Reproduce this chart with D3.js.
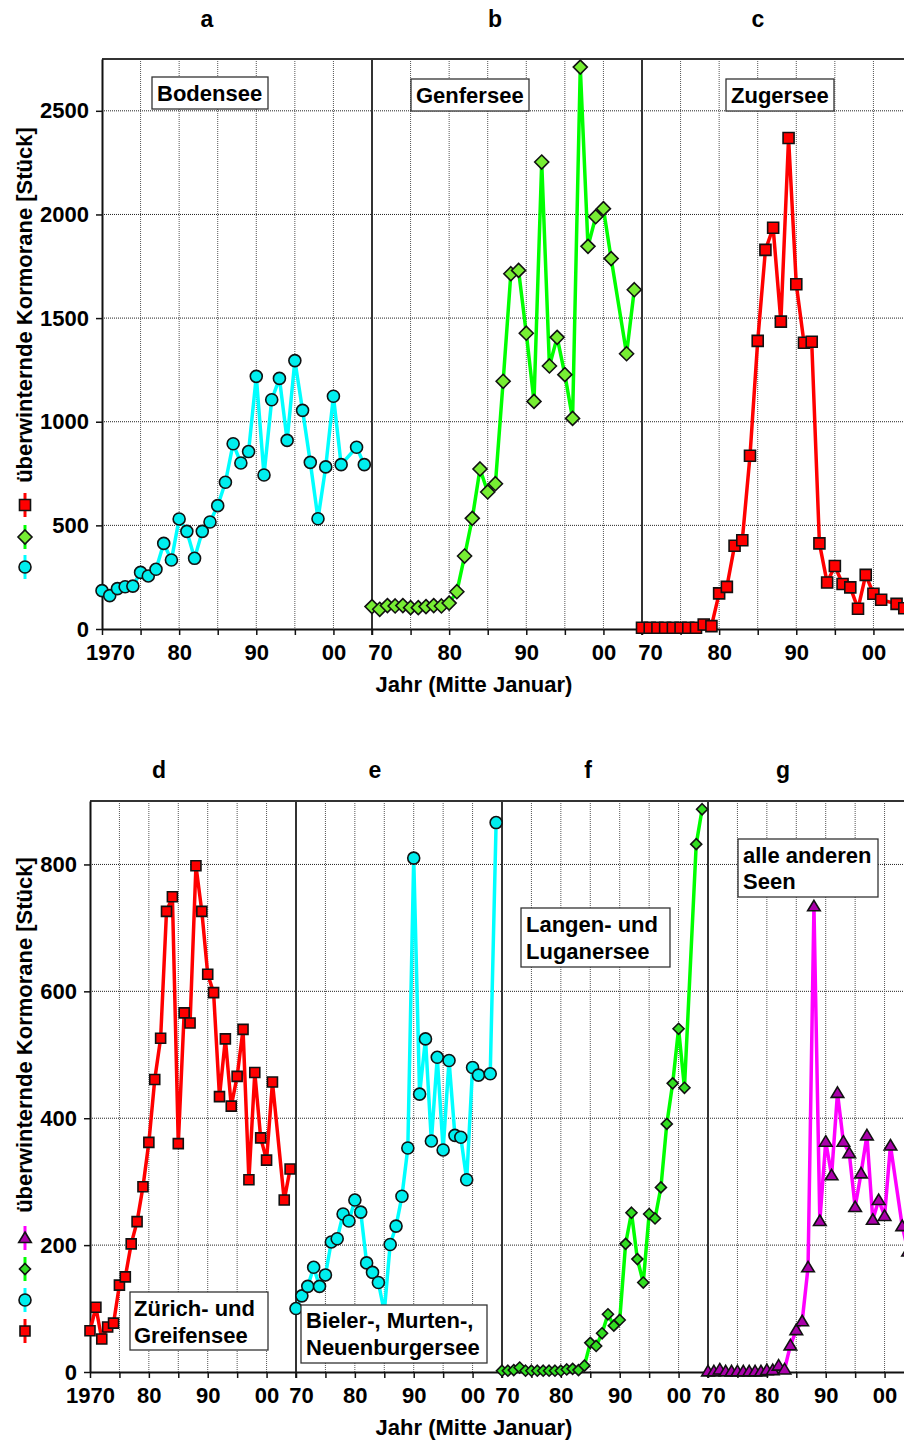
<!DOCTYPE html>
<html>
<head>
<meta charset="utf-8">
<script src="https://cdn.jsdelivr.net/npm/d3@7"></script>
<style>
  body { margin: 0; background: #fff; }
  svg text { font-family: "Liberation Sans", Arial, sans-serif; font-weight: bold; fill: #000; }
</style>
</head>
<body>
<svg id="chart" width="904" height="1441"></svg>
<script>
// Winter counts (mid-January) of cormorants on Swiss lakes, 1970–2004 (no count in 2002)
const years = [1970,1971,1972,1973,1974,1975,1976,1977,1978,1979,1980,1981,1982,1983,1984,1985,
  1986,1987,1988,1989,1990,1991,1992,1993,1994,1995,1996,1997,1998,1999,2000,2001,2003,2004];

const bodensee = [185,161,195,204,207,273,256,288,413,333,531,471,341,471,516,595,
  708,894,801,856,1219,743,1106,1209,910,1295,1055,804,532,782,1123,793,877,793];
const genfersee = [108,95,113,111,113,103,103,108,113,111,125,180,352,534,772,661,
  701,1195,1714,1730,1427,1098,2253,1269,1407,1227,1016,2711,1846,1989,2028,1787,1328,1637];
const zugersee = [6,6,6,6,6,6,6,6,22,14,172,203,402,428,836,1390,
  1829,1936,1483,2369,1663,1381,1386,413,224,304,217,201,98,261,170,141,121,100];

const zuerichGreifensee = [65,102,52,71,77,137,150,202,237,292,362,461,526,726,749,360,
  566,550,798,726,627,598,434,525,419,466,540,303,472,369,334,457,271,320];
const bielerMurtenNeuenburg = [100,120,135,165,135,153,205,210,249,238,271,252,172,157,141,95,
  201,230,277,353,810,438,525,364,496,350,491,373,370,303,480,468,470,866];
const langenLugano = [2,2,3,7,2,2,2,2,2,2,2,4,5,3,10,46,
  41,61,91,73,82,202,251,178,141,249,242,291,391,455,541,448,832,887];
const andereSeen = [1,1,4,1,1,1,1,1,1,1,3,3,10,4,42,66,
  80,165,734,238,363,310,440,363,345,260,313,373,240,271,246,357,230,190];

const topTicks = [0,500,1000,1500,2000,2500];
const bottomTicks = [0,200,400,600,800];
const decadeTicks = [1970,1980,1990,2000];
const firstPanelLabels = ["1970","80","90","00"];
const otherPanelLabels = ["70","80","90","00"];
const yTitle = "überwinternde Kormorane [Stück]";
const xTitle = "Jahr (Mitte Januar)";

const svg = d3.select("#chart");
const W = 904;

const colors = {
  red:     { line: "#FF0000", fill: "#FF0000" },
  green:   { line: "#00FF00", fill: "#77EE33" },
  green2:  { line: "#00FF00", fill: "#33DD22" },
  cyan:    { line: "#00FFFF", fill: "#00EEEE" },
  magenta: { line: "#FF00FF", fill: "#AA00AA" }
};

function markerPath(kind, s) {
  if (kind === "circle") return d3.symbol(d3.symbolCircle, Math.PI * s * s)();
  if (kind === "square") return d3.symbol(d3.symbolSquare, (2 * s) * (2 * s))();
  if (kind === "diamond") return `M0,${-s}L${s},0L0,${s}L${-s},0Z`;
  if (kind === "triangle") return `M0,${-s}L${s*1.05},${s*0.75}L${-s*1.05},${s*0.75}Z`;
}

function drawChart(cfg) {
  const { left, top, bottom, panelW, yMax, yTicks, panels, labelShift } = cfg;
  const y = d3.scaleLinear().domain([0, yMax]).range([bottom, top]);
  const g = svg.append("g");

  const gridG = g.append("g");
  // horizontal dotted grid
  gridG.selectAll("line.h").data(yTicks.filter(t => t > 0)).join("line")
    .attr("x1", left).attr("x2", W).attr("y1", d => y(d)).attr("y2", d => y(d))
    .attr("stroke", "#222").attr("stroke-width", 1).attr("stroke-dasharray", "1,1");

  const xs = panels.map((p, i) =>
    d3.scaleLinear().domain([1970, 2005]).range([left + i * panelW, left + (i + 1) * panelW]));

  // vertical dotted grid every five years
  xs.forEach(x => {
    gridG.selectAll(null).data([1975,1980,1985,1990,1995,2000]).join("line")
      .attr("x1", d => x(d)).attr("x2", d => x(d)).attr("y1", top).attr("y2", bottom)
      .attr("stroke", "#555").attr("stroke-width", 1).attr("stroke-dasharray", "1,1");
  });

  // panel separators
  xs.slice(1).forEach(x => {
    g.append("line").attr("x1", x(1970)).attr("x2", x(1970)).attr("y1", top).attr("y2", bottom + 6)
      .attr("stroke", "#333").attr("stroke-width", 2);
  });

  // plot frame top line
  g.append("line").attr("x1", left).attr("x2", W).attr("y1", top).attr("y2", top)
    .attr("stroke", "#333").attr("stroke-width", 2);

  // x axes, one per panel
  xs.forEach((x, i) => {
    const labels = i === 0 ? firstPanelLabels : otherPanelLabels;
    const ax = g.append("g").attr("transform", `translate(0,${bottom})`)
      .call(d3.axisBottom(x)
        .tickValues([1970,1975,1980,1985,1990,1995,2000])
        .tickSize(6).tickSizeOuter(0).tickPadding(9)
        .tickFormat(d => { const k = decadeTicks.indexOf(d); return k >= 0 ? labels[k] : ""; }));
    ax.select(".domain").attr("stroke", "#111").attr("stroke-width", 2);
    ax.selectAll(".tick line").attr("stroke", "#111").attr("stroke-width", 1.5);
    ax.selectAll(".tick text").attr("font-size", 22).attr("font-family", null)
      .attr("dx", d => d === 1970 ? labelShift[i === 0 ? 0 : 1] : 0);
  });

  // y axis
  const ay = g.append("g").attr("transform", `translate(${left},0)`)
    .call(d3.axisLeft(y).tickValues(yTicks).tickFormat(d3.format("d"))
      .tickSize(6).tickSizeOuter(0).tickPadding(7));
  ay.select(".domain").attr("stroke", "#111").attr("stroke-width", 2);
  ay.selectAll(".tick line").attr("stroke", "#111").attr("stroke-width", 1.5);
  ay.selectAll(".tick text").attr("font-size", 22).attr("font-family", null);

  // series
  panels.forEach((p, i) => {
    const x = xs[i];
    const pts = years.map((yr, k) => [x(yr), y(p.values[k])]);
    const c = colors[p.color];
    g.append("path").attr("d", d3.line()(pts))
      .attr("fill", "none").attr("stroke", c.line).attr("stroke-width", 3.5)
      .attr("stroke-linejoin", "round");
    const mp = markerPath(p.marker, p.size);
    g.selectAll(null).data(pts).join("path")
      .attr("d", mp).attr("transform", d => `translate(${d[0]},${d[1]})`)
      .attr("fill", c.fill).attr("stroke", "#111").attr("stroke-width", 1.6);
  });

  // lake name boxes
  cfg.boxes.forEach(b => {
    const bg = g.append("g");
    bg.append("rect").attr("x", b.x).attr("y", b.y).attr("width", b.w).attr("height", b.h)
      .attr("fill", "#fff").attr("stroke", "#333").attr("stroke-width", 1.3);
    b.lines.forEach((t, k) => {
      bg.append("text").attr("x", b.x + b.pad).attr("y", b.base + k * b.lh)
        .attr("font-size", 22).text(t);
    });
  });

  // panel letters
  cfg.letters.forEach(l => {
    g.append("text").attr("x", l.x).attr("y", l.y).attr("text-anchor", "middle")
      .attr("font-size", 23).text(l.t);
  });

  // axis titles
  g.append("text").attr("transform", `translate(32,${cfg.yTitleCenter}) rotate(-90)`)
    .attr("text-anchor", "middle").attr("font-size", 22).text(yTitle);
  g.append("text").attr("x", 474).attr("y", cfg.xTitleY).attr("text-anchor", "middle")
    .attr("font-size", 22).text(xTitle);

  // series keys below the y title
  cfg.keys.forEach(k => {
    const c = colors[k.color];
    g.append("line").attr("x1", 25).attr("x2", 25).attr("y1", k.y - 12).attr("y2", k.y + 12)
      .attr("stroke", c.line).attr("stroke-width", 3);
    g.append("path").attr("d", markerPath(k.marker, k.size))
      .attr("transform", `translate(25,${k.y})`)
      .attr("fill", c.fill).attr("stroke", "#111").attr("stroke-width", 1.6);
  });
}

drawChart({
  left: 102, top: 59, bottom: 629, panelW: 270, yMax: 2750, yTicks: topTicks,
  labelShift: [8, 8],
  panels: [
    { values: bodensee, color: "cyan", marker: "circle", size: 6 },
    { values: genfersee, color: "green", marker: "diamond", size: 7 },
    { values: zugersee, color: "red", marker: "square", size: 5.5 }
  ],
  boxes: [
    { x: 152, y: 77, w: 116, h: 32, pad: 5, base: 101, lh: 26, lines: ["Bodensee"] },
    { x: 411, y: 79, w: 118, h: 32, pad: 5, base: 103, lh: 26, lines: ["Genfersee"] },
    { x: 726, y: 79, w: 108, h: 32, pad: 5, base: 103, lh: 26, lines: ["Zugersee"] }
  ],
  letters: [ { t: "a", x: 207, y: 27 }, { t: "b", x: 495, y: 27 }, { t: "c", x: 758, y: 27 } ],
  yTitleCenter: 305, xTitleY: 692,
  keys: [
    { color: "red", marker: "square", size: 5.5, y: 505 },
    { color: "green", marker: "diamond", size: 7, y: 537 },
    { color: "cyan", marker: "circle", size: 6, y: 567 }
  ]
});

drawChart({
  left: 90, top: 801, bottom: 1372, panelW: 206, yMax: 900, yTicks: bottomTicks,
  labelShift: [0, 5],
  panels: [
    { values: zuerichGreifensee, color: "red", marker: "square", size: 5 },
    { values: bielerMurtenNeuenburg, color: "cyan", marker: "circle", size: 6 },
    { values: langenLugano, color: "green2", marker: "diamond", size: 5.5 },
    { values: andereSeen, color: "magenta", marker: "triangle", size: 6 }
  ],
  boxes: [
    { x: 130, y: 1292, w: 138, h: 58, pad: 4, base: 1316, lh: 27, lines: ["Zürich- und", "Greifensee"] },
    { x: 301, y: 1305, w: 186, h: 58, pad: 5, base: 1328, lh: 27, lines: ["Bieler-, Murten-,", "Neuenburgersee"] },
    { x: 521, y: 908, w: 149, h: 59, pad: 5, base: 932, lh: 27, lines: ["Langen- und", "Luganersee"] },
    { x: 738, y: 839, w: 140, h: 58, pad: 5, base: 863, lh: 26, lines: ["alle anderen", "Seen"] }
  ],
  letters: [ { t: "d", x: 159, y: 778 }, { t: "e", x: 375, y: 778 }, { t: "f", x: 588, y: 778 }, { t: "g", x: 783, y: 778 } ],
  yTitleCenter: 1035, xTitleY: 1435,
  keys: [
    { color: "magenta", marker: "triangle", size: 6, y: 1238 },
    { color: "green2", marker: "diamond", size: 5.5, y: 1269 },
    { color: "cyan", marker: "circle", size: 6, y: 1300 },
    { color: "red", marker: "square", size: 5, y: 1331 }
  ]
});
</script>
</body>
</html>
